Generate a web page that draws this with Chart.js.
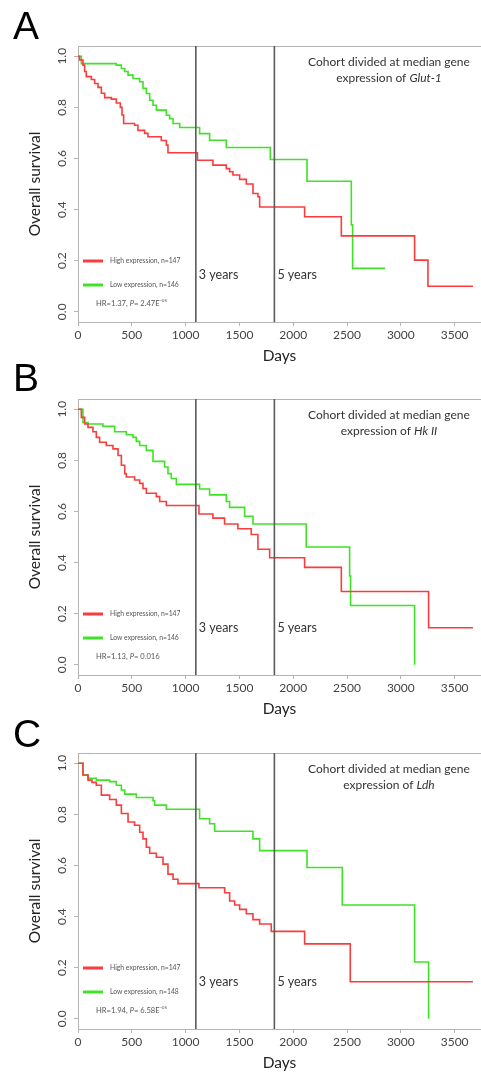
<!DOCTYPE html>
<html>
<head>
<meta charset="utf-8">
<script src="https://cdn.jsdelivr.net/npm/chart.js@4.4.0/dist/chart.umd.min.js"></script>
<style>
html, body { margin: 0; padding: 0; background: #fff; overflow: hidden; }
body { width: 481px; height: 1074px; position: relative; }
.panel { position: absolute; left: 0; width: 481px; height: 365px; }
.letter { position: absolute; left: 13px; font: 39px "Liberation Sans", Arial, sans-serif; line-height: 1; color: #000; }
</style>
</head>
<body>
<div class="panel" style="top:0"><canvas id="chartA" width="481" height="365"></canvas></div>
<div class="panel" style="top:353px"><canvas id="chartB" width="481" height="365"></canvas></div>
<div class="panel" style="top:707px"><canvas id="chartC" width="481" height="365"></canvas></div>
<div class="letter" style="top:6px">A</div>
<div class="letter" style="top:358px">B</div>
<div class="letter" style="top:714px">C</div>
<script>
// survival curves (days, fraction surviving)
let glutHighDays = [0, 15, 46, 62, 77, 124, 155, 186, 217, 248, 310, 356, 393, 409, 424, 526, 557, 619, 650, 774, 821, 836, 1110, 1254, 1378, 1409, 1440, 1502, 1564, 1626, 1672, 1688, 2106, 2447, 3128, 3252, 3670];
let glutHighSurv = [1.0, 0.985, 0.965, 0.94, 0.92, 0.909, 0.893, 0.878, 0.855, 0.838, 0.832, 0.817, 0.80, 0.77, 0.737, 0.73, 0.71, 0.698, 0.685, 0.67, 0.652, 0.622, 0.593, 0.574, 0.56, 0.548, 0.535, 0.518, 0.50, 0.463, 0.45, 0.41, 0.372, 0.297, 0.202, 0.10, 0.10];
let glutLowDays = [0, 31, 356, 403, 434, 465, 511, 573, 604, 635, 666, 697, 728, 821, 852, 883, 945, 1130, 1223, 1378, 1787, 2128, 2540, 2552, 2855];
let glutLowSurv = [1.0, 0.971, 0.965, 0.952, 0.94, 0.926, 0.913, 0.9, 0.874, 0.854, 0.828, 0.808, 0.789, 0.769, 0.756, 0.737, 0.721, 0.697, 0.671, 0.643, 0.596, 0.511, 0.34, 0.17, 0.17];

let hkHighDays = [0, 31, 62, 93, 139, 170, 201, 263, 325, 372, 403, 434, 449, 526, 573, 604, 635, 728, 759, 821, 1124, 1254, 1362, 1486, 1610, 1672, 1781, 2106, 2447, 3258, 3670];
let hkHighSurv = [1.0, 0.968, 0.942, 0.929, 0.912, 0.89, 0.871, 0.858, 0.845, 0.819, 0.781, 0.748, 0.735, 0.723, 0.71, 0.69, 0.671, 0.658, 0.639, 0.623, 0.59, 0.574, 0.551, 0.532, 0.51, 0.452, 0.419, 0.381, 0.287, 0.145, 0.145];
let hkLowDays = [0, 46, 93, 232, 341, 449, 511, 542, 573, 635, 697, 805, 836, 867, 914, 1130, 1223, 1378, 1409, 1548, 1626, 2121, 2524, 2533, 3128];
let hkLowSurv = [1.0, 0.948, 0.942, 0.933, 0.912, 0.9, 0.89, 0.874, 0.858, 0.839, 0.796, 0.774, 0.748, 0.729, 0.706, 0.688, 0.665, 0.639, 0.616, 0.581, 0.551, 0.461, 0.348, 0.232, 0.0];

let ldhHighDays = [0, 46, 93, 130, 170, 217, 294, 356, 403, 465, 526, 573, 604, 635, 666, 728, 790, 836, 883, 929, 1124, 1363, 1409, 1456, 1502, 1564, 1626, 1688, 1796, 2106, 2530, 3670];
let ldhHighSurv = [1.0, 0.954, 0.934, 0.925, 0.914, 0.875, 0.858, 0.836, 0.803, 0.77, 0.757, 0.73, 0.704, 0.671, 0.648, 0.632, 0.605, 0.566, 0.546, 0.529, 0.513, 0.493, 0.461, 0.445, 0.428, 0.411, 0.388, 0.371, 0.342, 0.293, 0.145, 0.145];
let ldhLowDays = [0, 46, 93, 170, 294, 356, 403, 434, 542, 697, 712, 821, 1130, 1223, 1270, 1626, 1688, 2128, 2456, 3128, 3258];
let ldhLowSurv = [1.0, 0.954, 0.941, 0.934, 0.928, 0.914, 0.895, 0.879, 0.866, 0.853, 0.836, 0.82, 0.783, 0.763, 0.734, 0.704, 0.658, 0.592, 0.445, 0.222, 0.0];

let dayTicks = [0, 500, 1000, 1500, 2000, 2500, 3000, 3500];
let markerDays = [1095, 1825];
let markerLabels = ['3 years', '5 years'];
let genes = ['Glut-1', 'Hk II', 'Ldh'];
let highN = [147, 147, 147];
let lowN = [146, 146, 148];
let hazardRatios = ['1.37', '1.13', '1.94'];
let pValues = [['2.47E', '-05'], ['0.016', ''], ['6.58E', '-05']];

const RED = '#fa3c3c';
const GREEN = '#3fe226';
const FONT = 'Lato, "Open Sans", sans-serif';

function pairs(days, surv) {
    return days.map(function (d, i) { return {x: d, y: surv[i]}; });
}

// vertical year lines, legend box, annotations
const notesPlugin = {
    id: 'kmNotes',
    afterDatasetsDraw(chart) {
        const o = chart.options.plugins.kmNotes;
        const ctx = chart.ctx;
        const a = chart.chartArea;
        const xs = chart.scales.x;
        ctx.save();

        // top frame line
        ctx.strokeStyle = '#b4b4b4';
        ctx.lineWidth = 1;
        ctx.beginPath();
        ctx.moveTo(a.left, a.top + 0.5);
        ctx.lineTo(a.right, a.top + 0.5);
        ctx.stroke();

        ctx.strokeStyle = '#5a5a5a';
        ctx.lineWidth = 1.6;
        ctx.fillStyle = '#333';
        ctx.font = '12.5px ' + FONT;
        ctx.textBaseline = 'middle';
        ctx.textAlign = 'left';
        markerDays.forEach(function (d, i) {
            const px = xs.getPixelForValue(d);
            ctx.beginPath();
            ctx.moveTo(px, a.top);
            ctx.lineTo(px, a.bottom);
            ctx.stroke();
            ctx.fillText(markerLabels[i], px + 3, a.top + 229);
        });

        // heading at top right
        ctx.font = '12px ' + FONT;
        const l1 = 'Cohort divided at median gene';
        ctx.fillText(l1, 389 - ctx.measureText(l1).width / 2, a.top + 16);
        const pre = 'expression of ';
        const w1 = ctx.measureText(pre).width;
        ctx.font = 'italic 12px ' + FONT;
        const w2 = ctx.measureText(o.gene).width;
        const sx = 389 - (w1 + w2) / 2;
        ctx.font = '12px ' + FONT;
        ctx.fillText(pre, sx, a.top + 32);
        ctx.font = 'italic 12px ' + FONT;
        ctx.fillText(o.gene, sx + w1, a.top + 32);

        // legend
        const ds = chart.data.datasets;
        ctx.font = '6.8px ' + FONT;
        ctx.fillStyle = '#555';
        [0, 1].forEach(function (i) {
            const ly = a.top + 215 + i * 24;
            ctx.strokeStyle = ds[i].borderColor;
            ctx.lineWidth = 3;
            ctx.beginPath();
            ctx.moveTo(a.left + 5, ly);
            ctx.lineTo(a.left + 25, ly);
            ctx.stroke();
            ctx.fillText(ds[i].label, a.left + 32, ly);
        });

        // hazard ratio line
        let hx = a.left + 18;
        const hy = a.top + 258;
        const parts = [
            ['7.6px ', 'HR=' + o.hr + ', '],
            ['italic 7.6px ', 'P'],
            ['7.6px ', '= ' + o.p[0]]
        ];
        parts.forEach(function (p) {
            ctx.font = p[0] + FONT;
            ctx.fillText(p[1], hx, hy);
            hx += ctx.measureText(p[1]).width;
        });
        if (o.p[1]) {
            ctx.font = '4.6px ' + FONT;
            ctx.fillText(o.p[1], hx + 0.5, hy - 3);
        }
        ctx.restore();
    }
};

function makeChart(id, idx, high, low) {
    const data = {
        datasets: [
            {
                label: 'High expression, n=' + highN[idx],
                data: high,
                borderColor: RED,
                borderWidth: 1.6,
                stepped: true,
                pointRadius: 0,
                fill: false
            },
            {
                label: 'Low expression, n=' + lowN[idx],
                data: low,
                borderColor: GREEN,
                borderWidth: 1.6,
                stepped: true,
                pointRadius: 0,
                fill: false
            }
        ]
    };
    const options = {
        responsive: false,
        animation: false,
        layout: {padding: {top: 46, left: 0, right: 0, bottom: 0}},
        plugins: {
            legend: {display: false},
            tooltip: {enabled: false},
            kmNotes: {gene: genes[idx], hr: hazardRatios[idx], p: pValues[idx]}
        },
        scales: {
            x: {
                type: 'linear',
                min: 0,
                max: 3745,
                border: {color: '#b4b4b4', width: 1},
                grid: {drawOnChartArea: false, tickLength: 4, color: '#b4b4b4'},
                ticks: {color: '#444', padding: 2, maxRotation: 0,
                    font: {family: FONT, size: 12},
                    callback(v) { return String(v); }},
                afterBuildTicks(scale) {
                    scale.ticks = dayTicks.map(function (v) { return {value: v}; });
                },
                title: {display: true, text: 'Days', color: '#222', padding: 0,
                    font: {family: FONT, size: 15.5}},
                afterFit(scale) { scale.height = 43; }
            },
            y: {
                min: -0.04,
                max: 1.04,
                border: {color: '#b4b4b4', width: 1},
                grid: {drawOnChartArea: false, tickLength: 4, color: '#b4b4b4'},
                ticks: {stepSize: 0.2, includeBounds: false, color: '#444', padding: 3,
                    minRotation: 90, maxRotation: 90, crossAlign: 'center',
                    font: {family: FONT, size: 12},
                    callback(v) { return v.toFixed(1); }},
                title: {display: true, text: 'Overall survival', color: '#222',
                    padding: {top: 26, bottom: 0}, font: {family: FONT, size: 15.5}},
                afterFit(scale) { scale.width = 78; }
            }
        }
    };
    return new Chart(document.getElementById(id), {
        type: 'line',
        data: data,
        options: options,
        plugins: [notesPlugin]
    });
}

makeChart('chartA', 0, pairs(glutHighDays, glutHighSurv), pairs(glutLowDays, glutLowSurv));
makeChart('chartB', 1, pairs(hkHighDays, hkHighSurv), pairs(hkLowDays, hkLowSurv));
makeChart('chartC', 2, pairs(ldhHighDays, ldhHighSurv), pairs(ldhLowDays, ldhLowSurv));
</script>
</body>
</html>
